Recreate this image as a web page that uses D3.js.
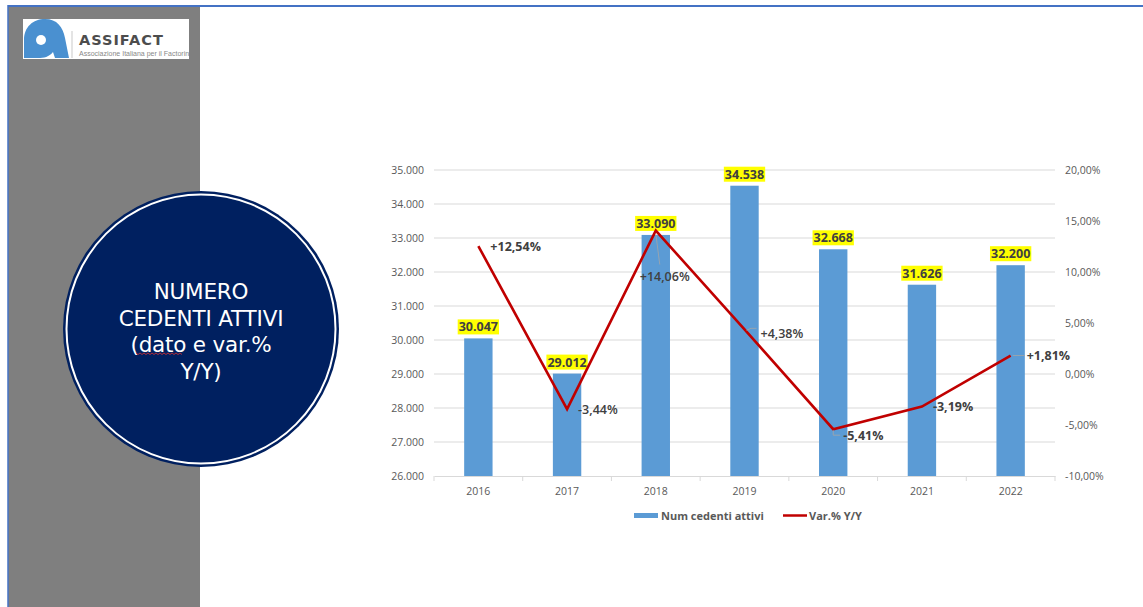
<!DOCTYPE html>
<html><head><meta charset="utf-8">
<script src="https://cdn.jsdelivr.net/npm/d3@7"></script>
<style>
html,body{margin:0;padding:0;background:#fff;}
svg{display:block;}
</style></head>
<body>
<svg id="c" width="1143" height="607"></svg>
<script>
const years = ["2016","2017","2018","2019","2020","2021","2022"];
const cedenti = [30047, 29012, 33090, 34538, 32668, 31626, 32200];
const varYY = [12.54, -3.44, 14.06, 4.38, -5.41, -3.19, 1.81];
const leftTicks = [26000,27000,28000,29000,30000,31000,32000,33000,34000,35000];
const rightTicks = [-10,-5,0,5,10,15,20];
const seriesNames = ["Num cedenti attivi","Var.% Y/Y"];
const titleLines = ["NUMERO","CEDENTI ATTIVI","(dato e var.%","Y/Y)"];

const it = d3.formatLocale({decimal:",",thousands:".",grouping:[3],currency:["€",""],minus:"-"});
const fmtN = it.format(",d");
const fmtP = v => it.format(".2f")(v) + "%";
const fmtS = v => (v>=0?"+":"") + it.format(".2f")(v) + "%";

const svg = d3.select("#c");
const FONT = "'Open Sans', 'Liberation Sans', sans-serif";

// frame
svg.append("rect").attr("x",8).attr("y",6).attr("width",192).attr("height",601).attr("fill","#7f7f7f");
svg.append("line").attr("x1",8).attr("x2",1143).attr("y1",6).attr("y2",6).attr("stroke","#4472c4").attr("stroke-width",2);
svg.append("line").attr("x1",8).attr("x2",8).attr("y1",5).attr("y2",607).attr("stroke","#4472c4").attr("stroke-width",1.5);

// logo
const lg = svg.append("g");
lg.append("rect").attr("x",23).attr("y",19).attr("width",166).attr("height",40).attr("fill","#fff");
lg.append("path").attr("d","M24,58 L24,40 C24,27 33,19 45,19 C57,19 63,27 65,38 L69,58 L55,58 L53,52 C49,57 44,58 38,58 Z").attr("fill","#4a90d0");
lg.append("circle").attr("cx",41).attr("cy",40).attr("r",5).attr("fill","#fff");
lg.append("line").attr("x1",72).attr("x2",72).attr("y1",31).attr("y2",58).attr("stroke","#bbb").attr("stroke-width",0.8);
lg.append("text").attr("x",79).attr("y",45).attr("font-family","'DejaVu Sans', sans-serif").attr("font-weight","bold").attr("font-size",14.5).attr("letter-spacing",1).attr("fill","#4d4d4d").text("ASSIFACT");
const cl = svg.append("clipPath").attr("id","lc");
cl.append("rect").attr("x",23).attr("y",19).attr("width",166).attr("height",40);
lg.append("text").attr("x",79).attr("y",56).attr("clip-path","url(#lc)").attr("font-family","'Liberation Sans Narrow', 'Liberation Sans', sans-serif").attr("font-size",7).attr("fill","#888").text("Associazione Italiana per il Factoring");

// circle
const cx=201, cy=329;
svg.append("circle").attr("cx",cx).attr("cy",cy).attr("r",138).attr("fill","#002060");
svg.append("circle").attr("cx",cx).attr("cy",cy).attr("r",134.5).attr("fill","none").attr("stroke","#fff").attr("stroke-width",2);
const tt = svg.append("text").attr("text-anchor","middle").attr("font-family","'DejaVu Sans', sans-serif").attr("font-size",21.5).attr("letter-spacing",-0.2).attr("fill","#fff");
titleLines.forEach((t,i)=>{
  tt.append("tspan").attr("x",cx).attr("y",299+i*26.5).text(t);
});
// spell underline
svg.append("path").attr("d", d3.range(0,48,2).map((d,i)=>(i?"L":"M")+(136+d)+","+(353+(i%2?1.5:0))).join("")).attr("stroke","#e03030").attr("stroke-width",0.8).attr("fill","none");

// chart
const x = d3.scaleBand().domain(years).range([434,1055]).paddingInner(0.68).paddingOuter(0.34);
const yL = d3.scaleLinear().domain([26000,35000]).range([476,170]);
const yR = d3.scaleLinear().domain([-10,20]).range([476,170]);

const grid = svg.append("g");
grid.selectAll("line").data(leftTicks.slice(1)).join("line")
  .attr("x1",434).attr("x2",1055).attr("y1",d=>yL(d)).attr("y2",d=>yL(d))
  .attr("stroke","#d9d9d9").attr("stroke-width",1);

const axL = svg.append("g").attr("transform","translate(434,0)")
  .call(d3.axisLeft(yL).tickValues(leftTicks).tickFormat(fmtN).tickSize(0).tickPadding(10));
axL.select(".domain").remove();
axL.selectAll("text").attr("font-family",FONT).attr("font-size",10.5).attr("fill","#595959");

const axR = svg.append("g").attr("transform","translate(1055,0)")
  .call(d3.axisRight(yR).tickValues(rightTicks).tickFormat(fmtP).tickSize(0).tickPadding(10));
axR.select(".domain").remove();
axR.selectAll("text").attr("font-family",FONT).attr("font-size",10.5).attr("fill","#595959");

// bottom axis
const axB = svg.append("g").attr("transform","translate(0,476)")
  .call(d3.axisBottom(x).tickSize(0).tickPadding(12));
axB.select(".domain").attr("stroke","#d9d9d9");
axB.selectAll("text").attr("font-family",FONT).attr("font-size",10.5).attr("fill","#595959");
const step = x.step();
svg.append("g").selectAll("line").data(d3.range(years.length+1)).join("line")
  .attr("x1",d=>434+d*step).attr("x2",d=>434+d*step).attr("y1",476).attr("y2",481)
  .attr("stroke","#d9d9d9");

// bars
svg.append("g").selectAll("rect").data(years).join("rect")
  .attr("x",d=>x(d)).attr("width",x.bandwidth())
  .attr("y",(d,i)=>yL(cedenti[i])).attr("height",(d,i)=>476-yL(cedenti[i]))
  .attr("fill","#5b9bd5");

// bar labels
const bl = svg.append("g");
years.forEach((d,i)=>{
  const g = bl.append("g");
  const t = g.append("text").attr("x",x(d)+x.bandwidth()/2).attr("y",yL(cedenti[i])-7)
    .attr("text-anchor","middle").attr("font-family",FONT).attr("font-weight","bold").attr("font-size",12.5)
    .attr("fill","#404040").text(fmtN(cedenti[i]));
  const b = t.node().getBBox();
  g.insert("rect","text").attr("x",b.x-1).attr("y",b.y+1).attr("width",b.width+2).attr("height",b.height-2).attr("fill","#ffff00");
});

// line
const cxp = d => x(d)+x.bandwidth()/2;
const line = d3.line().x(d=>cxp(d)).y((d,i)=>yR(varYY[i]));
svg.append("path").datum(years).attr("d",line).attr("fill","none").attr("stroke","#c00000").attr("stroke-width",2.6).attr("stroke-linejoin","miter");

// line labels (offsets are label placement, values come from data)
const lblOff = [[12,1,true],[11,1,false],[-16,46,false],[16,4,false],[10,6,true],[11,0,true],[16,0,true]];
// leader lines
const lead = svg.append("g").attr("stroke","#a6a6a6").attr("fill","none").attr("stroke-width",0.8);
lead.append("line").attr("x1",cxp("2018")).attr("y1",yR(varYY[2])+3).attr("x2",cxp("2018")+4).attr("y2",yR(varYY[2])+34);
lead.append("path").attr("d",`M${cxp("2019")+2},${yR(varYY[3])+1} Q${cxp("2019")+6},${yR(varYY[3])-2} ${cxp("2019")+12},${yR(varYY[3])-1}`);
lead.append("path").attr("d",`M${cxp("2020")},${yR(varYY[4])+1} L${cxp("2020")},${yR(varYY[4])+6} L${cxp("2020")+7},${yR(varYY[4])+6}`);
lead.append("line").attr("x1",cxp("2022")+2).attr("y1",yR(varYY[6])).attr("x2",cxp("2022")+14).attr("y2",yR(varYY[6]));

svg.append("g").selectAll("text").data(years).join("text")
  .attr("x",(d,i)=>cxp(d)+lblOff[i][0]).attr("y",(d,i)=>yR(varYY[i])+lblOff[i][1])
  .attr("dy","0.35em").attr("font-family",FONT).attr("font-size",12.5)
  .attr("font-weight",(d,i)=>lblOff[i][2]?"bold":"600")
  .attr("fill","#404040").text((d,i)=>fmtS(varYY[i]));

// legend
const lgd = svg.append("g").attr("font-family",FONT).attr("font-size",11).attr("font-weight","bold").attr("fill","#595959");
lgd.append("rect").attr("x",634).attr("y",513).attr("width",24).attr("height",5).attr("fill","#5b9bd5");
lgd.append("text").attr("x",661).attr("y",516).attr("dy","0.35em").text(seriesNames[0]);
lgd.append("line").attr("x1",783).attr("x2",807).attr("y1",515.5).attr("y2",515.5).attr("stroke","#c00000").attr("stroke-width",2.5);
lgd.append("text").attr("x",809).attr("y",516).attr("dy","0.35em").text(seriesNames[1]);
</script>
</body></html>
